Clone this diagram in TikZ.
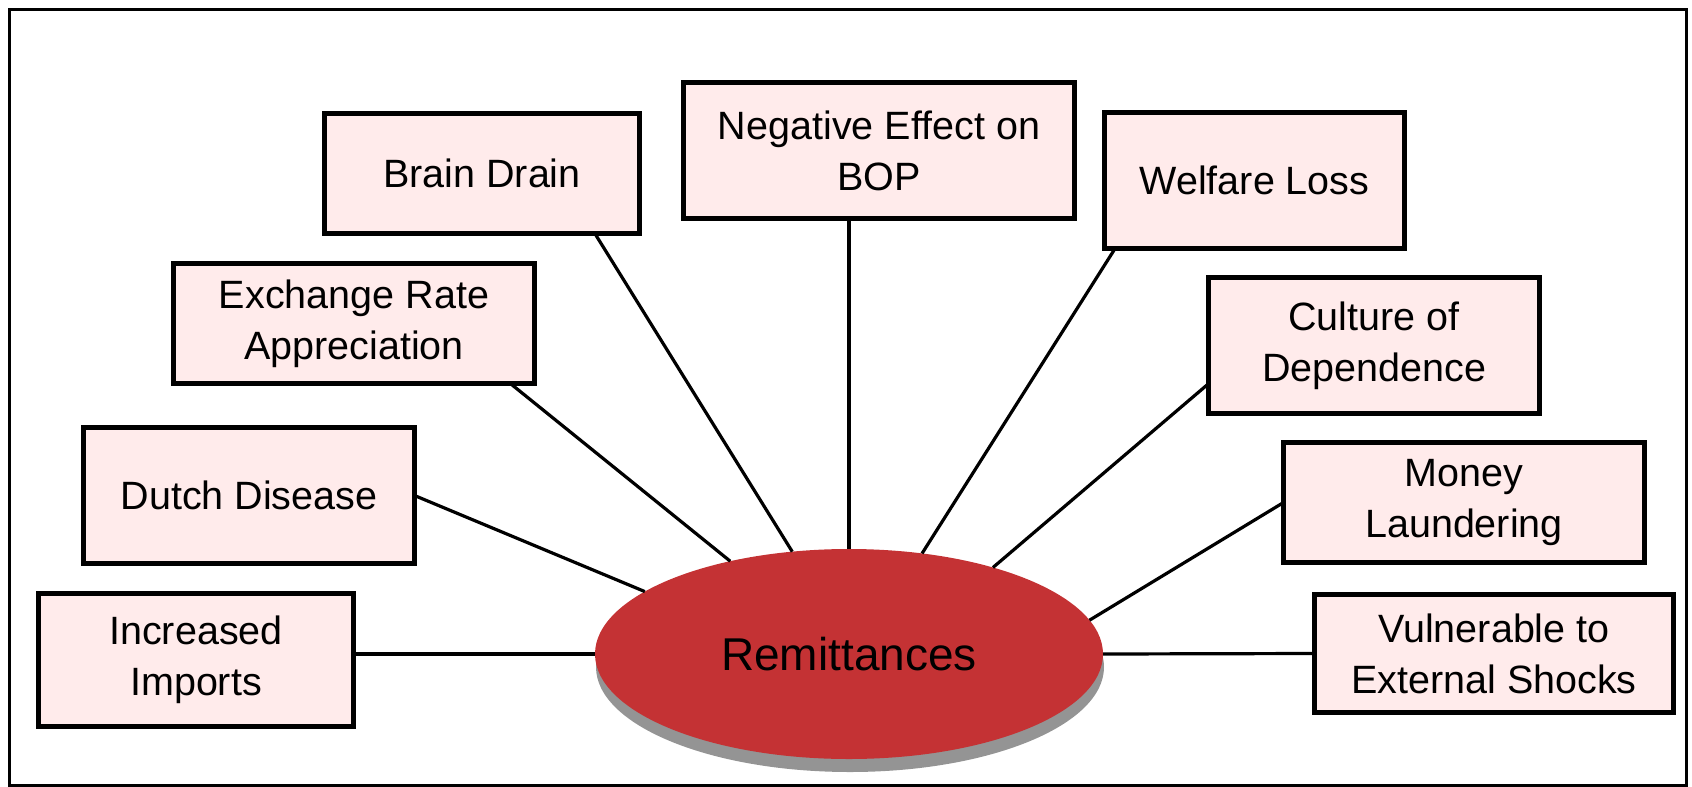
\documentclass[tikz,border=0pt]{standalone}
\usepackage{fontspec}
\setmainfont{Liberation Sans}
\usetikzlibrary{shapes.geometric}
\usetikzlibrary{shadows}
\definecolor{myred}{RGB}{196,50,52}
\definecolor{mypink}{RGB}{255,235,235}
\colorlet{myshadow}{black!42}
\tikzset{
  effect/.style={draw=black,line width=5.5pt,fill=mypink,align=center,
                 inner sep=0pt,outer sep=0pt,
                 font=\fontsize{39.5}{51}\selectfont},
  link/.style={black,line width=3.2pt},
  centre/.style={ellipse,fill=myred,inner sep=0pt,outer sep=0pt,
                 minimum width=508pt,minimum height=210pt,
                 font=\fontsize{46}{50}\selectfont,
                 drop shadow={shadow xshift=1pt,shadow yshift=-13pt,
                              fill=myshadow,opacity=1}}
}

\begin{document}
\begin{tikzpicture}[x=1pt,y=-1pt]
  % FRAME
  \useasboundingbox (0,0) rectangle (1692,787);
  \draw[line width=3pt] (9,9) rectangle (1686,785);

  % CENTRE
  \node[centre] (rem) at (849,654) {Remittances};

  % EFFECTS
  \node[effect,minimum width=315pt,minimum height=133pt] (imp) at (196,660)    {Increased\\Imports};
  \node[effect,minimum width=331pt,minimum height=136pt] (dut) at (249,495.5)  {Dutch Disease};
  \node[effect,minimum width=361pt,minimum height=120pt] (exc) at (354,323.5)  {Exchange Rate\\Appreciation};
  \node[effect,minimum width=315pt,minimum height=120pt] (brn) at (482,173.5)  {Brain Drain};
  \node[effect,minimum width=391pt,minimum height=136pt] (bop) at (879,150.5)  {Negative Effect on\\BOP};
  \node[effect,minimum width=300pt,minimum height=136pt] (wel) at (1254.5,180.5) {Welfare Loss};
  \node[effect,minimum width=331pt,minimum height=136pt] (cul) at (1374,345.5) {Culture of\\Dependence};
  \node[effect,minimum width=361pt,minimum height=120pt] (mon) at (1464,502.5) {Money\\Laundering};
  \node[effect,minimum width=359pt,minimum height=118pt] (vul) at (1494,653.5) {Vulnerable to\\External Shocks};

  % LINES
  \draw[link] (imp.east |- rem.west) -- (rem.west);
  \draw[link] (dut.east) -- (rem.163);
  \draw[link] (exc.-21) -- (rem.142);
  \draw[link] (brn.-28) -- (rem.119);
  \draw[link] (bop.south -| rem.north) -- (rem.north);
  \draw[link] (wel.206) -- (rem.54);
  \draw[link] (cul.193) -- (rem.31);
  \draw[link] (mon.west) -- (rem.8);
  \draw[link] (vul.west) -- (rem.east);
\end{tikzpicture}
\end{document}
